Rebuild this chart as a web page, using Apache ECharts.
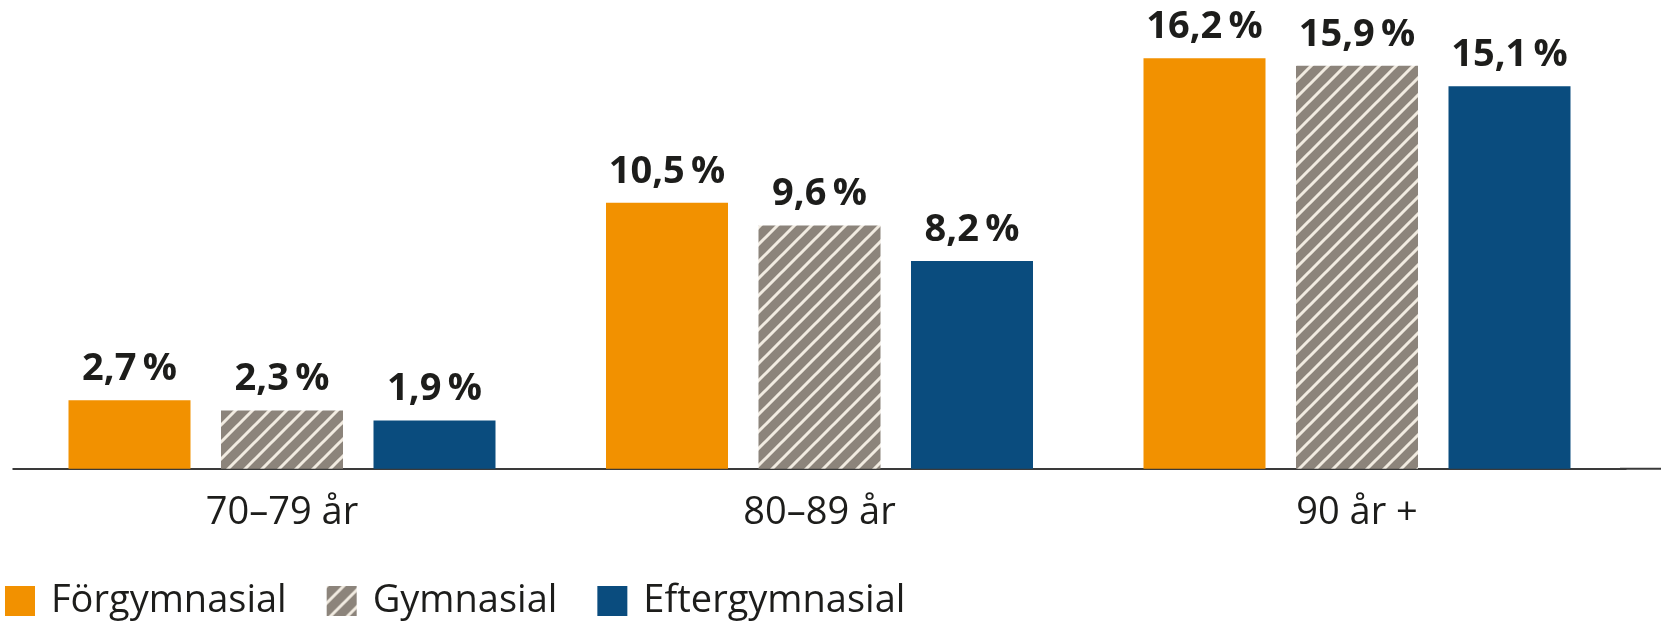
<!DOCTYPE html>
<html>
<head>
<meta charset="utf-8">
<script src="https://cdn.jsdelivr.net/npm/echarts@6/dist/echarts.min.js"></script>
<style>
  html, body { margin: 0; padding: 0; background: #fff; }
  #chart { width: 1661px; height: 622px; }
</style>
</head>
<body>
<div id="chart"></div>
<script>
const categories = ['70–79 år', '80–89 år', '90 år +'];
const seriesNames = ['Förgymnasial', 'Gymnasial', 'Eftergymnasial'];
const forgymnasial = [2.7, 10.5, 16.2];
const gymnasial = [2.3, 9.6, 15.9];
const eftergymnasial = [1.9, 8.2, 15.1];

const textColor = '#1d1d1b';
const font = '"Open Sans", "Noto Sans", sans-serif';

// diagonal hatch for Gymnasial
const makeHatch = () => {
  const s = 17;
  const c = document.createElement('canvas');
  c.width = s; c.height = s;
  const ctx = c.getContext('2d');
  ctx.fillStyle = '#8c847b';
  ctx.fillRect(0, 0, s, s);
  ctx.strokeStyle = '#f1ebe1';
  ctx.lineWidth = 3;
  ctx.beginPath();
  ctx.moveTo(-s, 2 * s); ctx.lineTo(2 * s, -s);
  ctx.moveTo(-s, s); ctx.lineTo(s, -s);
  ctx.moveTo(0, 2 * s); ctx.lineTo(2 * s, 0);
  ctx.stroke();
  return c;
};

const fmt = (p) => p.value.toFixed(1).replace('.', ',') + '\u2009%';

const label = {
  show: true,
  position: 'top',
  distance: 12,
  formatter: fmt,
  color: textColor,
  fontFamily: font,
  fontWeight: 'bold',
  fontSize: 38
};

const chart = echarts.init(document.getElementById('chart'));

const option = {
  animation: false,
  grid: { left: 13.25, right: 35.25, top: 0, bottom: 153.3 },
  xAxis: {
    type: 'category',
    data: categories,
    axisLine: { lineStyle: { color: '#3a3a3a', width: 2 } },
    axisTick: { show: false },
    axisLabel: { color: textColor, fontFamily: font, fontSize: 38, margin: 25 }
  },
  yAxis: {
    type: 'value',
    min: 0,
    max: 18.5,
    show: false,
    splitLine: { show: false }
  },
  legend: {
    left: 0,
    top: 577,
    itemWidth: 30,
    itemHeight: 30,
    itemGap: 40,
    icon: 'rect',
    textStyle: { color: textColor, fontFamily: font, fontSize: 38, padding: [0, 0, 0, 11] },
    data: seriesNames
  },
  graphic: [{
    type: 'line',
    shape: { x1: 1620, y1: 468.7, x2: 1661, y2: 468.7 },
    style: { stroke: '#3a3a3a', lineWidth: 2 }
  }],
  series: [
    {
      name: seriesNames[0], type: 'bar', data: forgymnasial,
      barWidth: 122, barGap: '25%',
      itemStyle: { color: '#f29100' }, label: label
    },
    {
      name: seriesNames[1], type: 'bar', data: gymnasial,
      barWidth: 122, barGap: '25%',
      itemStyle: { color: { image: makeHatch(), repeat: 'repeat' } }, label: label
    },
    {
      name: seriesNames[2], type: 'bar', data: eftergymnasial,
      barWidth: 122, barGap: '25%',
      itemStyle: { color: '#0a4c7e' }, label: label
    }
  ]
};

chart.setOption(option);
</script>
</body>
</html>
